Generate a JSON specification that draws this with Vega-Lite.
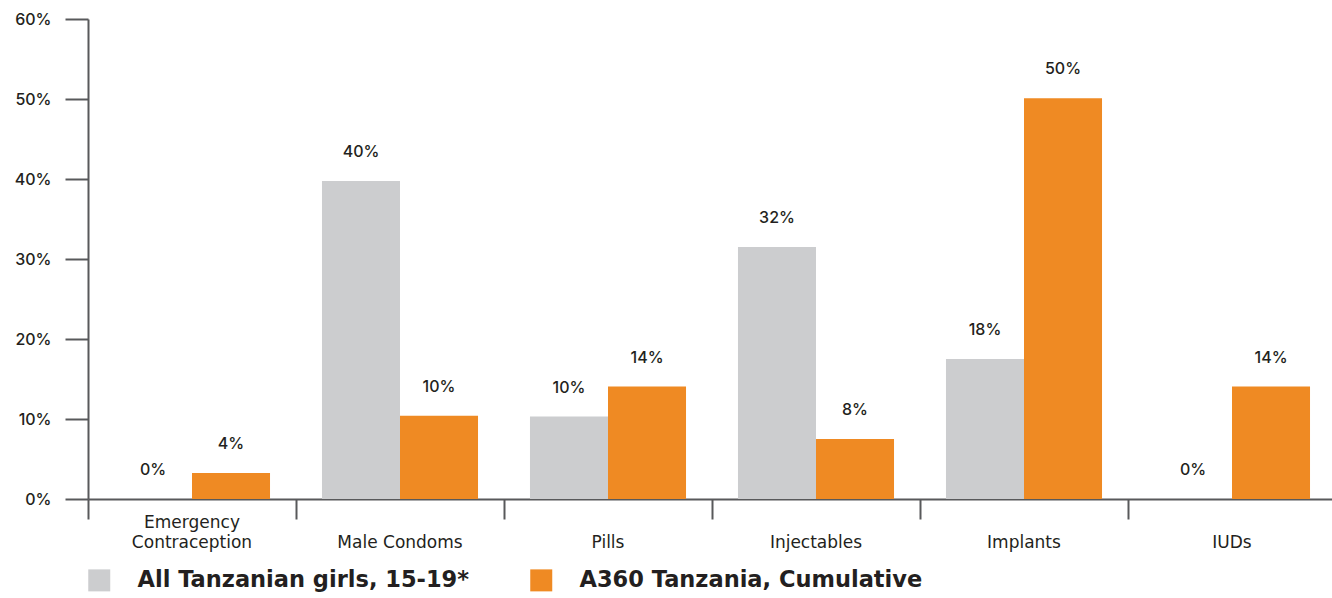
{
  "$schema": "https://vega.github.io/schema/vega-lite/v6.json",
  "autosize": {"type": "none"},
  "padding": {"left": 88, "top": 19, "right": 0, "bottom": 99},
  "width": 1248,
  "height": 480,
  "config": {
    "view": {"stroke": null},
    "font": "Inter",
    "text": {"font": "Inter"}
  },
  "data": {
    "values": [
      {"method": "Emergency Contraception", "series": "All Tanzanian girls, 15-19*", "value": 0, "label": "0%"},
      {"method": "Emergency Contraception", "series": "A360 Tanzania, Cumulative", "value": 3.25, "label": "4%"},
      {"method": "Male Condoms", "series": "All Tanzanian girls, 15-19*", "value": 39.75, "label": "40%"},
      {"method": "Male Condoms", "series": "A360 Tanzania, Cumulative", "value": 10.4, "label": "10%"},
      {"method": "Pills", "series": "All Tanzanian girls, 15-19*", "value": 10.3, "label": "10%"},
      {"method": "Pills", "series": "A360 Tanzania, Cumulative", "value": 14.05, "label": "14%"},
      {"method": "Injectables", "series": "All Tanzanian girls, 15-19*", "value": 31.5, "label": "32%"},
      {"method": "Injectables", "series": "A360 Tanzania, Cumulative", "value": 7.5, "label": "8%"},
      {"method": "Implants", "series": "All Tanzanian girls, 15-19*", "value": 17.5, "label": "18%"},
      {"method": "Implants", "series": "A360 Tanzania, Cumulative", "value": 50.1, "label": "50%"},
      {"method": "IUDs", "series": "All Tanzanian girls, 15-19*", "value": 0, "label": "0%"},
      {"method": "IUDs", "series": "A360 Tanzania, Cumulative", "value": 14.05, "label": "14%"}
    ]
  },
  "encoding": {
    "x": {
      "field": "method",
      "type": "nominal",
      "sort": ["Emergency Contraception", "Male Condoms", "Pills", "Injectables", "Implants", "IUDs"],
      "scale": {"paddingInner": 0, "paddingOuter": 0},
      "axis": {
        "title": null,
        "bandPosition": 0,
        "domainColor": "#58595b",
        "domainWidth": 2,
        "tickColor": "#58595b",
        "tickWidth": 2,
        "tickSize": 20,
        "labelAngle": 0,
        "labelFont": "DejaVu Sans",
        "labelFontSize": 17,
        "labelColor": "#231f20",
        "labelBaseline": "bottom",
        "labelLineHeight": 20,
        "labelPadding": 12,
        "labelExpr": "datum.value == 'Emergency Contraception' ? ['Emergency', 'Contraception'] : ['', datum.value]"
      }
    },
    "xOffset": {
      "field": "series",
      "type": "nominal",
      "sort": ["All Tanzanian girls, 15-19*", "A360 Tanzania, Cumulative"],
      "scale": {"paddingInner": 0, "paddingOuter": 0.333}
    },
    "y": {
      "field": "value",
      "type": "quantitative",
      "scale": {"domain": [0, 60]},
      "axis": {
        "title": null,
        "values": [0, 10, 20, 30, 40, 50, 60],
        "labelExpr": "datum.value + '%'",
        "grid": false,
        "domainColor": "#58595b",
        "domainWidth": 2,
        "tickColor": "#58595b",
        "tickWidth": 2,
        "tickSize": 23,
        "labelFont": "Inter",
        "labelFontSize": 16,
        "labelFontWeight": 500,
        "labelColor": "#231f20",
        "labelPadding": 14
      }
    }
  },
  "layer": [
    {
      "mark": {"type": "bar"},
      "encoding": {
        "color": {
          "field": "series",
          "type": "nominal",
          "sort": ["All Tanzanian girls, 15-19*", "A360 Tanzania, Cumulative"],
          "scale": {"domain": ["All Tanzanian girls, 15-19*", "A360 Tanzania, Cumulative"], "range": ["#cccdcf", "#ef8a23"]},
          "legend": {
            "title": null,
            "orient": "none",
            "legendX": 0,
            "legendY": 550,
            "direction": "horizontal",
            "symbolType": "square",
            "symbolSize": 484,
            "symbolStrokeWidth": 0,
            "labelFont": "DejaVu Sans",
            "labelFontSize": 22.5,
            "labelFontWeight": "bold",
            "labelColor": "#231f20",
            "labelOffset": 27,
            "labelLimit": 600,
            "columnPadding": 61
          }
        }
      }
    },
    {
      "mark": {"type": "text", "dy": -29, "baseline": "middle", "fontSize": 16, "fontWeight": 500, "color": "#231f20", "font": "Inter"},
      "encoding": {
        "text": {"field": "label", "type": "nominal"}
      }
    }
  ]
}
